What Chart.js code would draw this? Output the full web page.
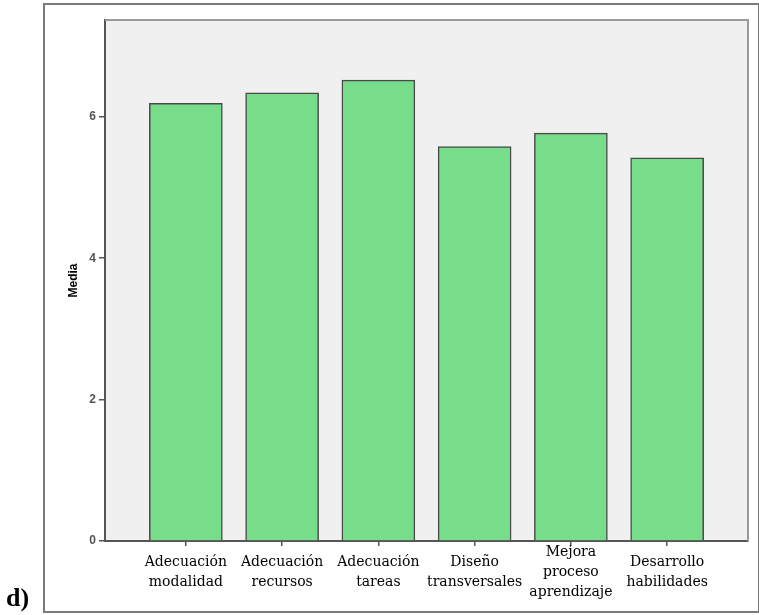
<!DOCTYPE html>
<html>
<head>
<meta charset="utf-8">
<script src="https://cdn.jsdelivr.net/npm/chart.js@4.4.1/dist/chart.umd.min.js"></script>
<style>
  html, body { margin: 0; padding: 0; background: #ffffff; }
  #wrap { position: absolute; left: 0; top: 0; width: 759px; height: 615px; }
  #frame { position: absolute; left: 43px; top: 3px; width: 713px; height: 606px;
           border: 2px solid #7a7a7a; box-sizing: content-box; }
  #lbl { position: absolute; left: 6px; top: 583px; font: bold 26px "Liberation Serif", serif; color: #000; }
  canvas { position: absolute; left: 0; top: 0; }
</style>
</head>
<body>
<div id="wrap">
  <div id="frame"></div>
  <canvas id="c" width="759" height="615"></canvas>
  <div id="lbl">d)</div>
</div>
<script>
const categories = [
  ["Adecuación", "modalidad"],
  ["Adecuación", "recursos"],
  ["Adecuación", "tareas"],
  ["Diseño", "transversales"],
  ["Mejora", "proceso", "aprendizaje"],
  ["Desarrollo", "habilidades"]
];
const mediaValues = [6.19, 6.34, 6.52, 5.58, 5.77, 5.42];
const yTickValues = [0, 2, 4, 6];
const yAxisTitle = "Media";

const points = mediaValues.map((v, i) => ({ x: i + 1, y: v }));

const plotBg = {
  id: 'plotBg',
  beforeDraw(chart) {
    const { ctx, chartArea: a } = chart;
    ctx.save();
    ctx.fillStyle = '#f0f0f0';
    ctx.fillRect(a.left, a.top, a.right - a.left, a.bottom - a.top);
    ctx.restore();
  },
  afterDraw(chart) {
    const { ctx, chartArea: a } = chart;
    ctx.save();
    ctx.strokeStyle = '#9a9a9a';
    ctx.lineWidth = 2;
    ctx.beginPath();
    ctx.moveTo(a.left, a.top);
    ctx.lineTo(a.right, a.top);
    ctx.lineTo(a.right, a.bottom);
    ctx.stroke();
    ctx.restore();
  }
};

new Chart(document.getElementById('c'), {
  type: 'bar',
  data: {
    datasets: [{
      data: points,
      backgroundColor: '#78dd8a',
      borderColor: '#4a4a4a',
      borderWidth: 1.5,
      barThickness: 73
    }]
  },
  options: {
    responsive: false,
    animation: false,
    devicePixelRatio: 1,
    layout: { padding: { left: 66, top: 20, right: 11, bottom: 0 } },
    plugins: { legend: { display: false }, tooltip: { enabled: false } },
    scales: {
      x: {
        type: 'linear',
        offset: false,
        min: 0.16,
        max: 6.84,
        afterFit(s) { s.height = 74; },
        afterBuildTicks(s) { s.ticks = categories.map((_, i) => ({ value: i + 1 })); },
        grid: { offset: false, drawOnChartArea: false, tickLength: 5, color: '#555', lineWidth: 1.5 },
        border: { display: true, color: '#555', width: 2 },
        ticks: {
          autoSkip: false,
          maxRotation: 0,
          minRotation: 0,
          padding: 6,
          crossAlign: 'center',
          color: '#000',
          font: { family: '"DejaVu Serif", serif', size: 14, lineHeight: 1.45 },
          callback: (v) => categories[Math.round(v) - 1]
        }
      },
      y: {
        min: 0,
        max: 7.37,
        afterFit(s) { s.width = 39; },
        afterBuildTicks(s) { s.ticks = yTickValues.map(v => ({ value: v })); },
        grid: { drawOnChartArea: false, tickLength: 6, color: '#555', lineWidth: 1.5 },
        border: { display: true, color: '#555', width: 2 },
        ticks: {
          padding: 3,
          color: '#555',
          font: { family: '"Liberation Sans", Arial, sans-serif', size: 12, weight: 'bold' }
        },
        title: {
          display: true,
          text: yAxisTitle,
          color: '#000',
          padding: { top: 0, bottom: 0 },
          font: { family: '"Liberation Sans", Arial, sans-serif', size: 12, weight: 'bold' }
        }
      }
    }
  },
  plugins: [plotBg]
});
</script>
</body>
</html>
